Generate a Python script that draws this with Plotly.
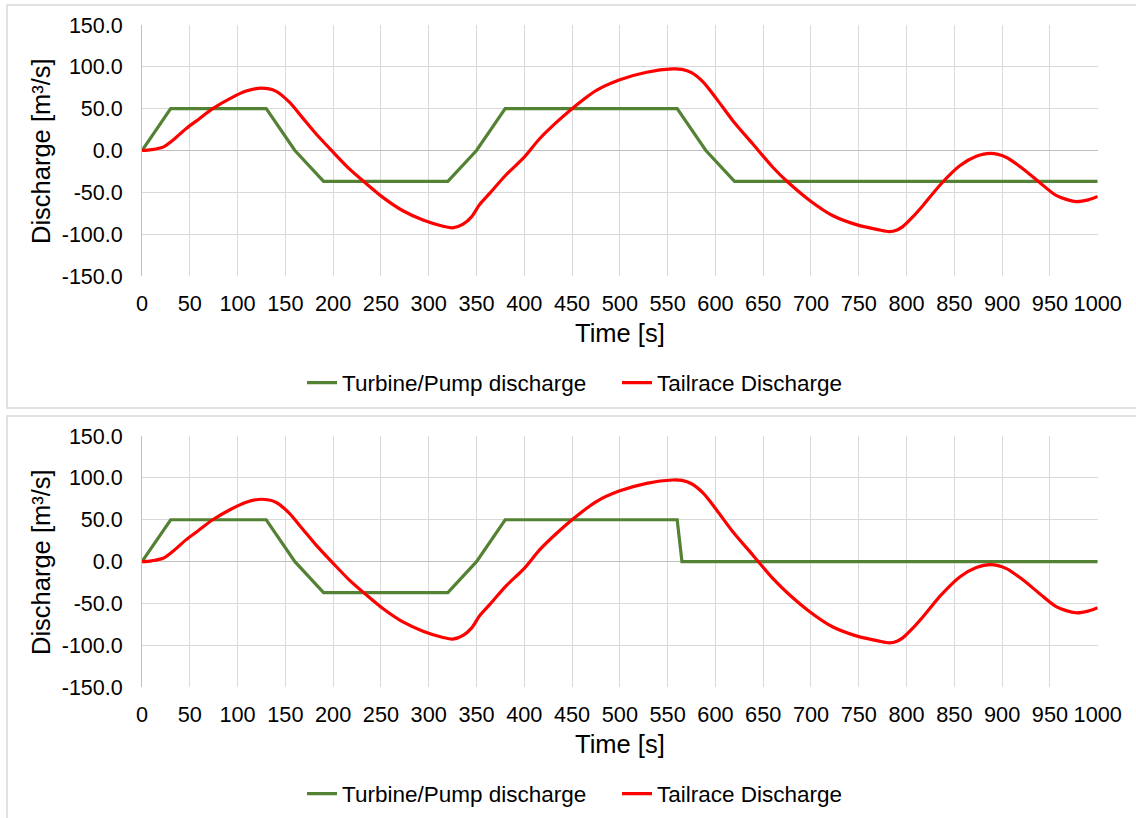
import plotly.graph_objects as go

# ---------------- data ----------------
turbine_t_top = [0, 30, 130, 160, 190, 320, 350, 380, 560, 590, 620, 1000]
turbine_q_top = [0, 50, 50, 0, -37, -37, 0, 50, 50, 0, -37, -37]

turbine_t_bot = [0, 30, 130, 160, 190, 320, 350, 380, 560, 565, 1000]
turbine_q_bot = [0, 50, 50, 0, -37, -37, 0, 50, 50, 0, 0]

tail_t = [0, 10, 22, 32, 46, 60, 74, 92, 109, 125, 140, 154, 168, 182, 200,
          217, 233, 252, 273, 294, 315, 325, 336, 345, 353, 364, 381, 400,
          416, 433, 450, 475, 500, 528, 555, 565, 575, 587, 601, 618, 639,
          660, 676, 699, 723, 750, 770, 782, 790, 796, 806, 817, 836, 856,
          873, 888, 904, 922, 939, 957, 977, 990, 1000]
tail_q = [0, 1, 4, 12, 26, 38, 50, 62, 71, 74.5, 71, 58, 39, 20, -2,
          -22, -38, -56, -72, -83, -90.5, -92.5, -88, -79, -65, -51, -29, -8,
          14, 33, 50, 71.5, 84.5, 93.5, 97.5, 97, 93, 82, 62, 36, 8,
          -20, -38, -60, -78, -89.5, -94.5, -97, -95, -91, -80, -66, -40, -18,
          -7, -3.5, -8, -22, -38, -54, -61, -59, -55]

x_ticks = list(range(0, 1001, 50))
y_ticks = [-150, -100, -50, 0, 50, 100, 150]
y_ticklabels = ["%.1f" % v for v in y_ticks]

GREEN = "#548235"
RED = "#FF0000"
FONT = "Liberation Sans, Arial, sans-serif"

W, H = 1136, 818


def px(x):
    return x / W


def py(y):
    return 1 - y / H


fig = go.Figure()

for i, (tt, tq) in enumerate([(turbine_t_top, turbine_q_top), (turbine_t_bot, turbine_q_bot)]):
    xa = "x" if i == 0 else "x2"
    ya = "y" if i == 0 else "y2"
    lg = "legend" if i == 0 else "legend2"
    fig.add_trace(go.Scatter(x=tt, y=tq, mode="lines", name="Turbine/Pump discharge",
                             line=dict(color=GREEN, width=3.2), xaxis=xa, yaxis=ya, legend=lg))
    fig.add_trace(go.Scatter(x=tail_t, y=tail_q, mode="lines", name="Tailrace Discharge",
                             line=dict(color=RED, width=3.2, shape="spline", smoothing=0.8),
                             xaxis=xa, yaxis=ya, legend=lg))

xdom = [px(142), px(1097.7)]
panels = [
    dict(top=25, bottom=276, box=(7, 5, 1140, 408)),
    dict(top=436, bottom=687.3, box=(7, 416, 1140, 830)),
]

axcommon_x = dict(range=[0, 1000], tickvals=x_ticks, ticktext=[str(v) for v in x_ticks],
                  showgrid=True, gridcolor="#D9D9D9", gridwidth=1, zeroline=False,
                  showline=False, ticks="", tickfont=dict(family=FONT, size=21.7, color="#000"),
                  ticklabelstandoff=12, fixedrange=True, automargin=False)
axcommon_y = dict(range=[-150, 150], tickvals=y_ticks, ticktext=y_ticklabels,
                  showgrid=True, gridcolor="#D9D9D9", gridwidth=1, zeroline=True,
                  zerolinecolor="#BFBFBF", zerolinewidth=1, showline=True, linecolor="#BFBFBF",
                  linewidth=1, ticks="", tickfont=dict(family=FONT, size=21.5, color="#000"),
                  ticklabelstandoff=14, fixedrange=True, automargin=False)

fig.update_layout(
    xaxis=dict(domain=xdom, anchor="y", **axcommon_x),
    yaxis=dict(domain=[py(panels[0]["bottom"]), py(panels[0]["top"])], anchor="x", **axcommon_y),
    xaxis2=dict(domain=xdom, anchor="y2", **axcommon_x),
    yaxis2=dict(domain=[py(panels[1]["bottom"]), py(panels[1]["top"])], anchor="x2", **axcommon_y),
)

shapes = []
annotations = []
for i, p in enumerate(panels):
    x0, y0, x1, y1 = p["box"]
    shapes.append(dict(type="rect", xref="paper", yref="paper", x0=px(x0), x1=px(x1),
                       y0=py(y1), y1=py(y0), line=dict(color="#D9D9D9", width=1.5),
                       fillcolor="rgba(0,0,0,0)", layer="below"))
    off = 0 if i == 0 else 411
    annotations.append(dict(text="Time [s]", xref="paper", yref="paper", x=px(620), y=py(333 + off),
                            xanchor="center", yanchor="middle", showarrow=False,
                            font=dict(family=FONT, size=25.5, color="#000")))
    annotations.append(dict(text="Discharge [m³/s]", xref="paper", yref="paper", x=px(41),
                            y=py(151 + off), xanchor="center", yanchor="middle", showarrow=False,
                            textangle=-90, font=dict(family=FONT, size=25.5, color="#000")))

legend_common = dict(orientation="h", xanchor="left", yanchor="middle", x=px(302),
                     font=dict(family=FONT, size=22.5, color="#000"), bgcolor="rgba(0,0,0,0)",
                     itemwidth=30, entrywidth=270, entrywidthmode="pixels")

fig.update_layout(
    width=W, height=H,
    margin=dict(l=0, r=0, t=0, b=0, autoexpand=False),
    paper_bgcolor="white", plot_bgcolor="white",
    showlegend=True,
    legend=dict(y=py(383), **legend_common),
    legend2=dict(y=py(794), **legend_common),
    shapes=shapes,
    annotations=annotations,
)

fig.write_html("out.html", config={"displayModeBar": False},
               post_script="document.body.style.margin='0';document.body.style.overflow='hidden';")
